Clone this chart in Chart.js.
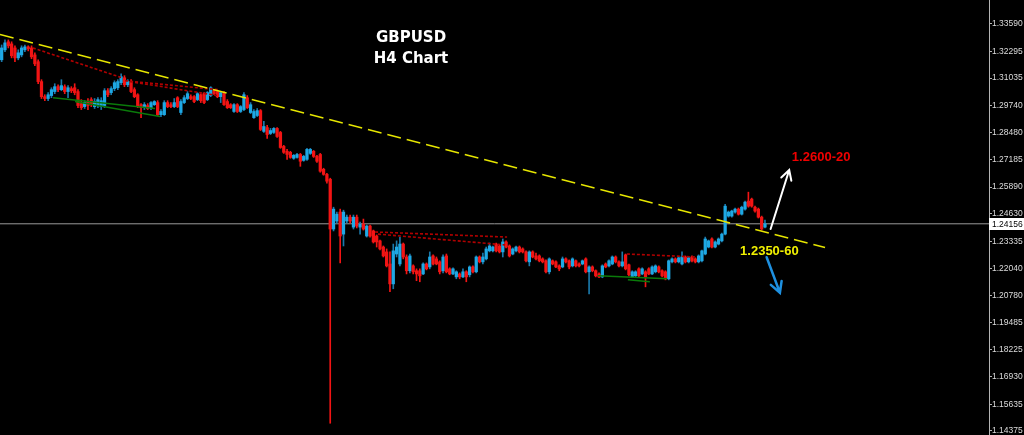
<!DOCTYPE html>
<html>
<head>
<meta charset="utf-8">
<style>
  html, body { margin: 0; padding: 0; background: #000; overflow: hidden; }
  canvas { display: block; }
</style>
<script src="https://cdn.jsdelivr.net/npm/chart.js@4.4.1/dist/chart.umd.min.js"></script>
</head>
<body>
<canvas id="chart" width="1024" height="435"></canvas>
<script>
// GBPUSD H4 candles, one entry per bar (index = bar number from the left)
const opens = [
  1.3190, 1.3237, 1.3275, 1.3265, 1.3246, 1.3199, 1.3213, 1.3237, 1.3251, 1.3246,
  1.3213, 1.3181, 1.3087, 1.3016, 1.3007, 1.3021, 1.3040, 1.3063, 1.3049, 1.3063,
  1.3040, 1.3054, 1.3058, 1.3040, 1.2983, 1.2969, 1.2993, 1.3002, 1.2969, 1.2974,
  1.2969, 1.2974, 1.3044, 1.3035, 1.3054, 1.3058, 1.3082, 1.3105, 1.3072, 1.3087,
  1.3049, 1.3025, 1.2978, 1.2964, 1.2974, 1.2964, 1.2978, 1.2988, 1.2931, 1.2931,
  1.2988, 1.2978, 1.2969, 1.3011, 1.2941, 1.2988, 1.3007, 1.3016, 1.3016, 1.3002,
  1.3025, 1.3030, 1.3002, 1.3021, 1.3044, 1.3040, 1.3016, 1.3035, 1.2993, 1.2978,
  1.2946, 1.2978, 1.2946, 1.2955, 1.3011, 1.2941, 1.2917, 1.2927, 1.2950, 1.2852,
  1.2870, 1.2842, 1.2847, 1.2866, 1.2847, 1.2781, 1.2758, 1.2753, 1.2725, 1.2729,
  1.2743, 1.2715, 1.2720, 1.2748, 1.2758, 1.2734, 1.2743, 1.2673, 1.2649, 1.2626,
  1.2391, 1.2429, 1.2471, 1.2367, 1.2429, 1.2447, 1.2400, 1.2447, 1.2400, 1.2414,
  1.2358, 1.2405, 1.2382, 1.2358, 1.2335, 1.2306, 1.2283, 1.2226, 1.2132, 1.2273,
  1.2226, 1.2320, 1.2259, 1.2194, 1.2217, 1.2194, 1.2194, 1.2179, 1.2226, 1.2212,
  1.2264, 1.2250, 1.2236, 1.2194, 1.2264, 1.2203, 1.2179, 1.2165, 1.2179, 1.2165,
  1.2189, 1.2175, 1.2212, 1.2189, 1.2259, 1.2236, 1.2250, 1.2288, 1.2288, 1.2320,
  1.2311, 1.2283, 1.2330, 1.2311, 1.2273, 1.2288, 1.2306, 1.2297, 1.2283, 1.2236,
  1.2283, 1.2264, 1.2264, 1.2250, 1.2241, 1.2189, 1.2241, 1.2236, 1.2217, 1.2212,
  1.2250, 1.2241, 1.2217, 1.2241, 1.2226, 1.2226, 1.2250, 1.2189, 1.2212, 1.2194,
  1.2179, 1.2165, 1.2226, 1.2217, 1.2226, 1.2259, 1.2236, 1.2217, 1.2269, 1.2222,
  1.2165, 1.2170, 1.2203, 1.2179, 1.2189, 1.2203, 1.2179, 1.2189, 1.2212, 1.2194,
  1.2189, 1.2156, 1.2236, 1.2250, 1.2236, 1.2226, 1.2259, 1.2236, 1.2259, 1.2250,
  1.2236, 1.2241, 1.2273, 1.2306, 1.2344, 1.2306, 1.2320, 1.2335, 1.2367, 1.2452,
  1.2452, 1.2471, 1.2485, 1.2461, 1.2485, 1.2523, 1.2532, 1.2494, 1.2485, 1.2447,
  1.2400,
];
const highs = [
  1.3260, 1.3284, 1.3284, 1.3275, 1.3256, 1.3237, 1.3256, 1.3260, 1.3256, 1.3256,
  1.3223, 1.3190, 1.3096, 1.3025, 1.3035, 1.3058, 1.3077, 1.3072, 1.3096, 1.3072,
  1.3068, 1.3063, 1.3077, 1.3049, 1.3002, 1.2997, 1.3007, 1.3011, 1.3007, 1.3011,
  1.3011, 1.3054, 1.3054, 1.3063, 1.3091, 1.3096, 1.3124, 1.3115, 1.3096, 1.3096,
  1.3058, 1.3030, 1.2983, 1.2988, 1.2983, 1.2993, 1.2997, 1.2997, 1.2955, 1.2997,
  1.2997, 1.2988, 1.3007, 1.3016, 1.3002, 1.3021, 1.3040, 1.3025, 1.3021, 1.3035,
  1.3030, 1.3035, 1.3040, 1.3063, 1.3049, 1.3044, 1.3040, 1.3040, 1.3002, 1.2983,
  1.2983, 1.2983, 1.2974, 1.3035, 1.3021, 1.2988, 1.2955, 1.2960, 1.2955, 1.2899,
  1.2880, 1.2866, 1.2870, 1.2870, 1.2852, 1.2786, 1.2767, 1.2758, 1.2743, 1.2748,
  1.2748, 1.2739, 1.2772, 1.2772, 1.2762, 1.2739, 1.2748, 1.2678, 1.2654, 1.2631,
  1.2494, 1.2471, 1.2485, 1.2480, 1.2457, 1.2457, 1.2457, 1.2457, 1.2424, 1.2438,
  1.2410, 1.2410, 1.2386, 1.2363, 1.2339, 1.2311, 1.2297, 1.2283, 1.2320, 1.2335,
  1.2353, 1.2325, 1.2269, 1.2273, 1.2222, 1.2203, 1.2203, 1.2231, 1.2231, 1.2283,
  1.2269, 1.2259, 1.2241, 1.2269, 1.2273, 1.2208, 1.2208, 1.2194, 1.2184, 1.2203,
  1.2194, 1.2217, 1.2217, 1.2264, 1.2264, 1.2278, 1.2306, 1.2325, 1.2311, 1.2325,
  1.2316, 1.2344, 1.2335, 1.2316, 1.2302, 1.2311, 1.2311, 1.2302, 1.2288, 1.2288,
  1.2288, 1.2278, 1.2269, 1.2255, 1.2245, 1.2255, 1.2245, 1.2241, 1.2222, 1.2259,
  1.2255, 1.2245, 1.2255, 1.2245, 1.2231, 1.2245, 1.2255, 1.2217, 1.2217, 1.2198,
  1.2184, 1.2222, 1.2231, 1.2245, 1.2264, 1.2264, 1.2241, 1.2283, 1.2273, 1.2226,
  1.2194, 1.2194, 1.2208, 1.2208, 1.2194, 1.2208, 1.2217, 1.2222, 1.2217, 1.2198,
  1.2194, 1.2245, 1.2255, 1.2255, 1.2259, 1.2283, 1.2264, 1.2259, 1.2264, 1.2255,
  1.2269, 1.2292, 1.2353, 1.2339, 1.2349, 1.2335, 1.2349, 1.2372, 1.2508, 1.2476,
  1.2480, 1.2490, 1.2490, 1.2499, 1.2523, 1.2565, 1.2537, 1.2499, 1.2490, 1.2452,
  1.2433,
];
const lows = [
  1.3181, 1.3228, 1.3246, 1.3199, 1.3181, 1.3190, 1.3204, 1.3228, 1.3232, 1.3195,
  1.3162, 1.3077, 1.3007, 1.2997, 1.2997, 1.3011, 1.3030, 1.3040, 1.3044, 1.3030,
  1.3011, 1.3035, 1.3025, 1.2964, 1.2955, 1.2960, 1.2955, 1.2969, 1.2960, 1.2964,
  1.2955, 1.2964, 1.3016, 1.3025, 1.3044, 1.3049, 1.3072, 1.3063, 1.3063, 1.3035,
  1.3011, 1.2964, 1.2917, 1.2955, 1.2955, 1.2955, 1.2974, 1.2927, 1.2922, 1.2927,
  1.2964, 1.2964, 1.2964, 1.2964, 1.2931, 1.2983, 1.3002, 1.3002, 1.2988, 1.2997,
  1.2988, 1.2983, 1.2997, 1.3016, 1.3025, 1.3011, 1.2988, 1.2974, 1.2960, 1.2960,
  1.2941, 1.2941, 1.2941, 1.2950, 1.2960, 1.2936, 1.2913, 1.2922, 1.2856, 1.2847,
  1.2819, 1.2837, 1.2842, 1.2823, 1.2772, 1.2748, 1.2720, 1.2725, 1.2720, 1.2725,
  1.2687, 1.2711, 1.2715, 1.2743, 1.2729, 1.2706, 1.2659, 1.2645, 1.2607, 1.1474,
  1.2382, 1.2419, 1.2231, 1.2311, 1.2419, 1.2419, 1.2391, 1.2396, 1.2367, 1.2386,
  1.2353, 1.2353, 1.2325, 1.2306, 1.2292, 1.2259, 1.2212, 1.2095, 1.2109, 1.2259,
  1.2217, 1.2250, 1.2179, 1.2184, 1.2179, 1.2147, 1.2142, 1.2175, 1.2198, 1.2203,
  1.2222, 1.2222, 1.2179, 1.2184, 1.2184, 1.2175, 1.2175, 1.2156, 1.2156, 1.2161,
  1.2142, 1.2165, 1.2184, 1.2184, 1.2231, 1.2226, 1.2245, 1.2283, 1.2283, 1.2283,
  1.2278, 1.2259, 1.2302, 1.2259, 1.2269, 1.2283, 1.2278, 1.2278, 1.2236, 1.2217,
  1.2255, 1.2245, 1.2236, 1.2231, 1.2184, 1.2179, 1.2222, 1.2208, 1.2194, 1.2208,
  1.2231, 1.2203, 1.2212, 1.2212, 1.2212, 1.2222, 1.2184, 1.2085, 1.2189, 1.2165,
  1.2161, 1.2161, 1.2208, 1.2212, 1.2222, 1.2231, 1.2212, 1.2212, 1.2198, 1.2170,
  1.2161, 1.2165, 1.2165, 1.2175, 1.2118, 1.2175, 1.2175, 1.2184, 1.2184, 1.2165,
  1.2151, 1.2151, 1.2231, 1.2231, 1.2231, 1.2222, 1.2231, 1.2231, 1.2236, 1.2231,
  1.2231, 1.2236, 1.2269, 1.2302, 1.2302, 1.2302, 1.2316, 1.2330, 1.2363, 1.2447,
  1.2447, 1.2466, 1.2457, 1.2457, 1.2480, 1.2494, 1.2494, 1.2471, 1.2443, 1.2386,
  1.2396,
];
const closes = [
  1.3246, 1.3270, 1.3256, 1.3209, 1.3199, 1.3223, 1.3246, 1.3251, 1.3242, 1.3204,
  1.3171, 1.3087, 1.3016, 1.3007, 1.3025, 1.3049, 1.3063, 1.3049, 1.3068, 1.3040,
  1.3058, 1.3044, 1.3035, 1.2974, 1.2964, 1.2988, 1.2974, 1.2978, 1.2993, 1.3002,
  1.2997, 1.3044, 1.3025, 1.3054, 1.3082, 1.3087, 1.3110, 1.3072, 1.3087, 1.3040,
  1.3016, 1.2969, 1.2964, 1.2978, 1.2960, 1.2988, 1.2993, 1.2931, 1.2946, 1.2988,
  1.2969, 1.2969, 1.2988, 1.2969, 1.2993, 1.3011, 1.3030, 1.3007, 1.2993, 1.3030,
  1.2997, 1.2988, 1.3035, 1.3058, 1.3030, 1.3016, 1.3035, 1.2978, 1.2964, 1.2964,
  1.2978, 1.2946, 1.2969, 1.3025, 1.2964, 1.2978, 1.2946, 1.2950, 1.2861, 1.2875,
  1.2837, 1.2856, 1.2866, 1.2828, 1.2776, 1.2753, 1.2743, 1.2729, 1.2739, 1.2743,
  1.2711, 1.2734, 1.2767, 1.2767, 1.2734, 1.2711, 1.2664, 1.2649, 1.2617, 1.2391,
  1.2485, 1.2461, 1.2358, 1.2471, 1.2447, 1.2429, 1.2447, 1.2405, 1.2414, 1.2391,
  1.2405, 1.2358, 1.2330, 1.2330, 1.2297, 1.2264, 1.2217, 1.2132, 1.2288, 1.2306,
  1.2320, 1.2259, 1.2194, 1.2264, 1.2189, 1.2179, 1.2170, 1.2226, 1.2203, 1.2259,
  1.2226, 1.2226, 1.2189, 1.2259, 1.2189, 1.2179, 1.2203, 1.2189, 1.2165, 1.2189,
  1.2165, 1.2212, 1.2189, 1.2259, 1.2236, 1.2259, 1.2297, 1.2311, 1.2306, 1.2288,
  1.2283, 1.2330, 1.2306, 1.2264, 1.2297, 1.2306, 1.2283, 1.2283, 1.2241, 1.2283,
  1.2259, 1.2250, 1.2241, 1.2236, 1.2189, 1.2250, 1.2226, 1.2212, 1.2203, 1.2250,
  1.2236, 1.2212, 1.2250, 1.2217, 1.2217, 1.2241, 1.2189, 1.2212, 1.2194, 1.2170,
  1.2165, 1.2217, 1.2212, 1.2241, 1.2259, 1.2236, 1.2217, 1.2236, 1.2203, 1.2175,
  1.2189, 1.2189, 1.2170, 1.2203, 1.2165, 1.2179, 1.2212, 1.2217, 1.2189, 1.2170,
  1.2156, 1.2241, 1.2250, 1.2236, 1.2255, 1.2259, 1.2236, 1.2255, 1.2241, 1.2236,
  1.2264, 1.2288, 1.2344, 1.2335, 1.2306, 1.2330, 1.2344, 1.2367, 1.2499, 1.2471,
  1.2476, 1.2485, 1.2461, 1.2494, 1.2518, 1.2499, 1.2499, 1.2476, 1.2447, 1.2391,
  1.2416,
];

// price axis
const yTicks = [1.33590, 1.32295, 1.31035, 1.29740, 1.28480, 1.27185, 1.25890, 1.24630,
  1.23335, 1.22040, 1.20780, 1.19485, 1.18225, 1.16930, 1.15635, 1.14375];
const yMin = 1.14185;
const yMax = 1.34723;
const bidPrice = 1.24156;
const barSlots = 298;

// drawn objects, points are [bar index, price]
const yellowTrend = [[-0.5, 1.3309], [248.1, 1.2304]];
const redDotted = [
  [[9.4, 1.3246], [36.3, 1.3105]],
  [[37.2, 1.3091], [65.2, 1.3049]],
  [[38.7, 1.3087], [65.2, 1.3021]],
  [[112.5, 1.2377], [152.3, 1.2353]],
  [[113.4, 1.2367], [151.7, 1.2316]],
  [[188.4, 1.2273], [209.5, 1.2259]],
];
const greenLines = [
  [[15.5, 1.3011], [46.2, 1.2960]],
  [[22.1, 1.2993], [47.7, 1.2922]],
  [[179.7, 1.2170], [200.5, 1.2156]],
  [[188.7, 1.2151], [195.3, 1.2142]],
];
const arrowUp = [[231.7, 1.2391], [237.3, 1.2670]];
const arrowDown = [[230.5, 1.2258], [234.5, 1.2090]];
const targetUp = { text: '1.2600-20', x: 238.1, y: 1.2711 };
const targetDown = { text: '1.2350-60', x: 222.5, y: 1.2269 };

const BULL = '#1ea8e4';
const BULL_WICK = '#1a78aa';
const BEAR = '#f21414';
const AXIS_FONT = '"Liberation Sans", Arial, sans-serif';

const isBull = closes.map((c, i) => c >= opens[i]);

function segment(pts, color, width, dash) {
  return {
    type: 'line',
    data: pts.map(([x, y]) => ({ x, y })),
    borderColor: color,
    borderWidth: width,
    borderDash: dash,
    pointRadius: 0,
    fill: false,
    order: 1,
  };
}

function drawArrow(ctx, xs, ys, pts, color, width, head) {
  const x0 = xs.getPixelForValue(pts[0][0]);
  const y0 = ys.getPixelForValue(pts[0][1]);
  const x1 = xs.getPixelForValue(pts[1][0]);
  const y1 = ys.getPixelForValue(pts[1][1]);
  const a = Math.atan2(y1 - y0, x1 - x0);
  ctx.save();
  ctx.strokeStyle = color;
  ctx.lineWidth = width;
  ctx.lineCap = 'round';
  ctx.beginPath();
  ctx.moveTo(x0, y0);
  ctx.lineTo(x1, y1);
  ctx.moveTo(x1 - head * Math.cos(a - 0.5), y1 - head * Math.sin(a - 0.5));
  ctx.lineTo(x1, y1);
  ctx.lineTo(x1 - head * Math.cos(a + 0.5), y1 - head * Math.sin(a + 0.5));
  ctx.stroke();
  ctx.restore();
}

const overlay = {
  id: 'overlay',
  afterDatasetsDraw(chart) {
    const { ctx, scales: { x, y } } = chart;
    drawArrow(ctx, x, y, arrowUp, '#ffffff', 2, 11);
    drawArrow(ctx, x, y, arrowDown, '#1e90e0', 2.5, 12);

    ctx.save();
    ctx.font = 'bold 13px "Liberation Sans", Arial, sans-serif';
    ctx.textAlign = 'left';
    ctx.textBaseline = 'alphabetic';
    ctx.fillStyle = '#f00000';
    ctx.fillText(targetUp.text, x.getPixelForValue(targetUp.x), y.getPixelForValue(targetUp.y));
    ctx.fillStyle = '#f0f000';
    ctx.fillText(targetDown.text, x.getPixelForValue(targetDown.x), y.getPixelForValue(targetDown.y));

    ctx.font = 'bold 15px "DejaVu Sans", sans-serif';
    ctx.textAlign = 'center';
    ctx.fillStyle = '#ffffff';
    ctx.fillText('GBPUSD', 411, 42);
    ctx.fillText('H4 Chart', 411, 63);
    ctx.restore();
  },
  afterDraw(chart) {
    const { ctx, scales: { y } } = chart;
    const py = Math.round(y.getPixelForValue(bidPrice));
    ctx.save();
    ctx.fillStyle = '#ffffff';
    ctx.fillRect(y.left, py - 6, y.width, 12);
    ctx.fillStyle = '#000000';
    ctx.font = `8.5px ${AXIS_FONT}`;
    ctx.textBaseline = 'middle';
    ctx.textAlign = 'left';
    ctx.fillText(bidPrice.toFixed(5), y.left + 3, py + 0.5);
    ctx.restore();
  },
};

new Chart(document.getElementById('chart'), {
  type: 'bar',
  data: {
    datasets: [
      segment(yellowTrend, '#e6e600', 1.5, [14, 6]),
      ...redDotted.map((p) => segment(p, '#b00000', 1.6, [3, 2])),
      ...greenLines.map((p) => segment(p, '#0a7a0a', 1.5, [])),
      {
        type: 'bar',
        data: opens.map((o, i) => ({ x: i, y: [Math.min(o, closes[i]), Math.max(o, closes[i])] })),
        backgroundColor: isBull.map((b) => (b ? BULL : BEAR)),
        barThickness: 2.6,
        grouped: false,
        order: 2,
      },
      {
        type: 'bar',
        data: lows.map((l, i) => ({ x: i, y: [l, highs[i]] })),
        backgroundColor: isBull.map((b) => (b ? BULL_WICK : BEAR)),
        barThickness: 1,
        grouped: false,
        order: 3,
      },
      {
        type: 'line',
        data: [{ x: -0.5, y: bidPrice }, { x: barSlots - 0.5, y: bidPrice }],
        borderColor: '#9a9a9a',
        borderWidth: 1,
        pointRadius: 0,
        order: 4,
      },
    ],
  },
  options: {
    responsive: false,
    devicePixelRatio: 1,
    animation: false,
    events: [],
    layout: { padding: 0 },
    plugins: { legend: { display: false }, tooltip: { enabled: false } },
    scales: {
      x: { type: 'linear', display: false, offset: false, min: -0.5, max: barSlots - 0.5 },
      y: {
        type: 'linear',
        position: 'right',
        min: yMin,
        max: yMax,
        afterBuildTicks: (s) => { s.ticks = yTicks.map((v) => ({ value: v })); },
        afterFit: (s) => { s.width = 35; s.paddingTop = 0; s.paddingBottom = 0; },
        ticks: {
          autoSkip: false,
          padding: 0,
          color: '#dcdcdc',
          font: { family: AXIS_FONT, size: 8.5 },
          callback: (v) => Number(v).toFixed(5),
        },
        grid: { drawOnChartArea: false, drawTicks: true, tickLength: 3, color: '#b4b4b4' },
        border: { display: true, color: '#b4b4b4' },
      },
    },
  },
  plugins: [overlay],
});
</script>
</body>
</html>
